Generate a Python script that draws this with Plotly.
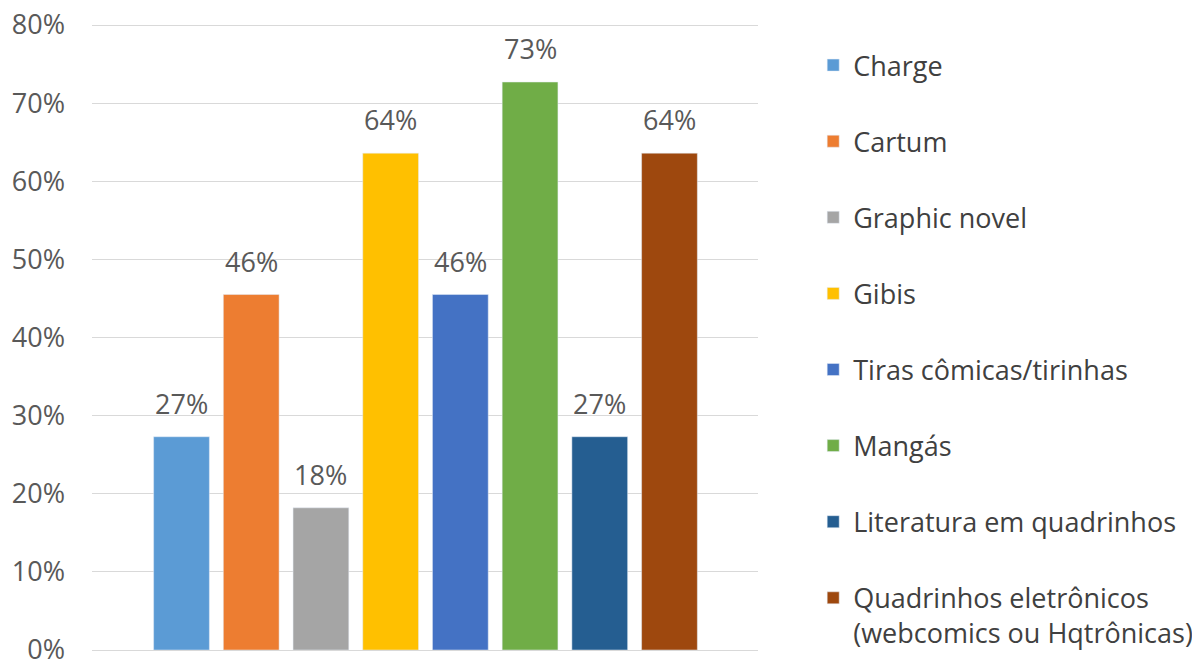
import plotly.graph_objects as go

categories = ["Charge", "Cartum", "Graphic novel", "Gibis", "Tiras cômicas/tirinhas",
              "Mangás", "Literatura em quadrinhos",
              "Quadrinhos eletrônicos<br>(webcomics ou Hqtrônicas)"]
values = [0.273, 0.455, 0.182, 0.636, 0.455, 0.727, 0.273, 0.636]
labels = ["27%", "46%", "18%", "64%", "46%", "73%", "27%", "64%"]
colors = ["#5B9BD5", "#ED7D31", "#A5A5A5", "#FFC000", "#4472C4", "#70AD47", "#255E91", "#9E480E"]
y_ticks = [0, 0.1, 0.2, 0.3, 0.4, 0.5, 0.6, 0.7, 0.8]
y_ticktext = ["0%", "10%", "20%", "30%", "40%", "50%", "60%", "70%", "80%"]

FONT = "Open Sans"
FS = 27
fig = go.Figure()
for i, (c, v, col) in enumerate(zip(categories, values, colors)):
    fig.add_trace(go.Bar(x=[i], y=[v], name=c, marker_color=col, width=0.8,
                         legendgroup=str(i), hoverinfo="skip"))
    fig.add_annotation(x=i, y=v, text=labels[i], showarrow=False, yanchor="bottom",
                       yshift=13, font=dict(family=FONT, size=FS, color="#595959"))

fig.update_layout(
    width=1200, height=661,
    margin=dict(l=84, r=450, t=15, b=19, autoexpand=False),
    paper_bgcolor="white", plot_bgcolor="white",
    barmode="overlay",
    showlegend=True,
    legend=dict(xref="container", yref="container", x=0.671, y=0.95,
                xanchor="left", yanchor="top", tracegroupgap=38, valign="top",
                maxheight=700,
                font=dict(family=FONT, size=FS, color="#404040")),
    xaxis=dict(range=[-1.284, 8.27], showticklabels=False, showgrid=False,
               zeroline=False, showline=False, fixedrange=True, automargin=False),
    yaxis=dict(range=[0, 0.80256], tickvals=y_ticks, ticktext=y_ticktext,
               showgrid=True, gridcolor="#D9D9D9", gridwidth=1,
               zeroline=True, zerolinecolor="#D9D9D9", zerolinewidth=1,
               showline=False, ticks="", ticklabelstandoff=26, automargin=False,
               ticklabeloverflow="allow",
               tickfont=dict(family=FONT, size=FS, color="#595959")),
)
fig.write_html("out.html")
